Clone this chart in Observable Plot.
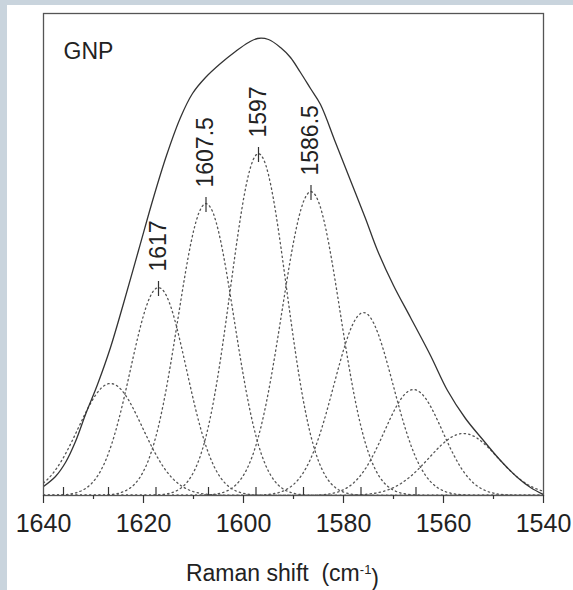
<!DOCTYPE html>
<html>
<head>
<meta charset="utf-8">
<script src="https://cdn.jsdelivr.net/npm/d3@7"></script>
<script src="https://cdn.jsdelivr.net/npm/@observablehq/plot@0.6"></script>
<style>
  html, body { margin: 0; padding: 0; }
  body { background: #c9d4dd; width: 573px; height: 590px; position: relative; overflow: hidden; }
  #paper { position: absolute; left: 7px; top: 5px; width: 566px; height: 585px; background: #fff; }
  #chart { position: absolute; left: 0; top: 0; }
  #chart svg { display: block; }
</style>
</head>
<body>
<div id="paper"></div>
<div id="chart"></div>
<script>
// Fitted component peaks (centre in cm^-1, height, gaussian sigma)
const peakCenters = [1626.6, 1617, 1607.5, 1597, 1586.5, 1576, 1566, 1556];
const peakHeights = [112, 208, 292, 342, 304, 183, 106, 62];
const peakSigmas  = [6.4, 5.6, 5.6, 5.6, 5.8, 5.9, 5.8, 6.9];
const peakLabels  = ["", "1617", "1607.5", "1597", "1586.5", "", "", ""];

// Measured envelope (solid line)
const envShift = [1640, 1637.6, 1635.6, 1633.6, 1631.6, 1629.2, 1626.6, 1624, 1621, 1618, 1615.4, 1612.6, 1610.2, 1607.6, 1604.6, 1601.6, 1599, 1597.2, 1595, 1592.6, 1590.6, 1588.6, 1586.6, 1584.6, 1581.6, 1578.6, 1575.6, 1573.2, 1570, 1566.6, 1562.6, 1559.2, 1555.6, 1552, 1548.6, 1545.2, 1542.6, 1540];
const envIntensity = [9, 19, 33, 54, 81, 111, 148, 192, 245, 298, 340, 378, 402, 418, 432, 444, 453, 457, 456, 448, 438, 423, 407, 391, 353, 315, 277, 245, 210, 178, 140, 105, 77, 55, 35, 18, 8, 1];

// Small marker ticks standing on the baseline
const baseMarks = [1636, 1627, 1617.5, 1607, 1597.5, 1588, 1576.5, 1565.5];

// Axis ticks
const majorTicks = [1640, 1620, 1600, 1580, 1560, 1540];
const minorTicks = [1630, 1610, 1590, 1570, 1550];

const sampleStep = 0.5;

const envelope = envShift.map((w, i) => ({w, h: envIntensity[i]}));
const peaks = peakCenters.map((c, i) => ({c, h: peakHeights[i], s: peakSigmas[i], label: peakLabels[i], id: i}));
const labeled = peaks.filter(p => p.label);

const profiles = [];
for (const p of peaks) {
  for (let w = 1640; w >= 1540 - 1e-9; w -= sampleStep) {
    profiles.push({id: p.id, w, h: p.h * Math.exp(-((w - p.c) ** 2) / (2 * p.s * p.s))});
  }
}

const font = "'Liberation Sans', Arial, Helvetica, sans-serif";

const chart = Plot.plot({
  width: 573,
  height: 590,
  marginLeft: 43,
  marginRight: 30,
  marginTop: 13,
  marginBottom: 95,
  style: {background: "transparent", fontFamily: font, color: "#222"},
  x: {domain: [1640, 1540], axis: null},
  y: {domain: [0, 482], axis: null},
  marks: [
    Plot.line(profiles, {x: "w", y: "h", z: "id", stroke: "#555", strokeWidth: 1.3, strokeDasharray: "1.4,3.2", clip: true}),
    Plot.line(envelope, {x: "w", y: "h", curve: "catmull-rom", stroke: "#333", strokeWidth: 1.3, clip: true}),
    Plot.ruleX(baseMarks, {x: d => d, y1: 0, y2: 8, stroke: "#333", strokeWidth: 1.2}),
    Plot.ruleX(labeled, {x: "c", y1: d => d.h - 9, y2: d => d.h + 6, stroke: "#333", strokeWidth: 1.2}),
    Plot.text(labeled, {x: "c", y: "h", text: "label", rotate: -90, textAnchor: "start", lineAnchor: "middle", dy: -16, fontSize: 23, fill: "#222"}),
    Plot.frame({stroke: "#555", strokeWidth: 1.3}),
    Plot.ruleX(majorTicks, {x: d => d, y1: 0, y2: -8, stroke: "#333", strokeWidth: 1.2}),
    Plot.ruleX(minorTicks, {x: d => d, y1: 0, y2: -4, stroke: "#333", strokeWidth: 1.2}),
    Plot.text(majorTicks, {x: d => d, y: 0, text: d => String(d), dy: 28, fontSize: 25, lineAnchor: "middle", fill: "#222"}),
    Plot.text(["GNP"], {frameAnchor: "top-left", dx: 20, dy: 29, textAnchor: "start", lineAnchor: "top", fontSize: 23, fill: "#222"}),
    Plot.text(["Raman shift  (cm-1)"], {frameAnchor: "bottom", dx: -11, dy: 78, lineAnchor: "middle", fontSize: 23, fill: "#222"})
  ]
});

document.getElementById("chart").appendChild(chart);

// Superscript for the unit in the axis title
d3.select(chart).selectAll("text").each(function() {
  const t = d3.select(this);
  if (t.text() === "Raman shift  (cm-1)") {
    t.text(null).style("white-space", "pre");
    t.append("tspan").text("Raman shift  (cm");
    t.append("tspan").attr("dy", "-0.55em").attr("font-size", "13px").text("-1");
    t.append("tspan").attr("dy", "0.55em").text(")");
  }
});
</script>
</body>
</html>
